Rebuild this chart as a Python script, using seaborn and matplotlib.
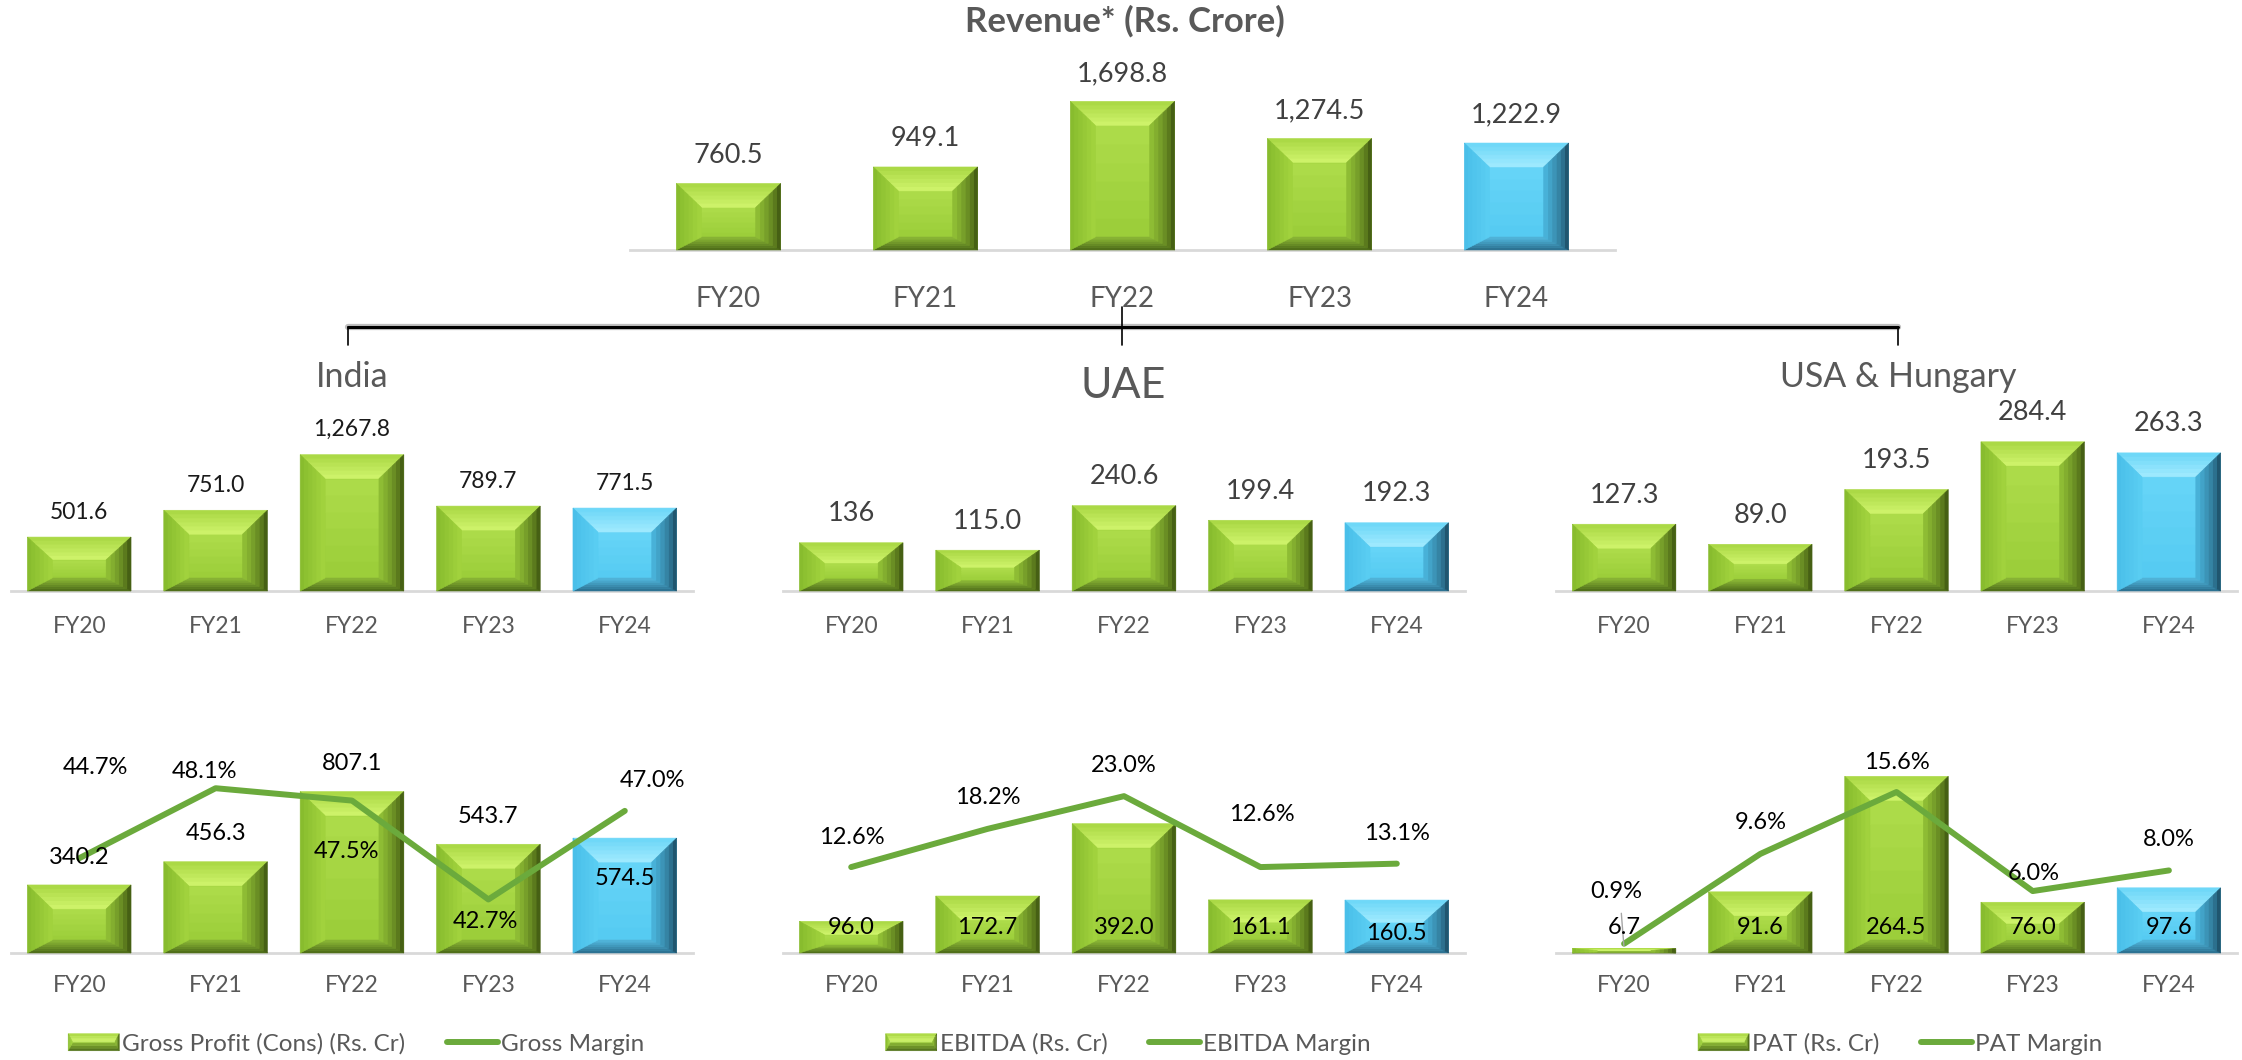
import numpy as np
import matplotlib
matplotlib.use("Agg")
import matplotlib.pyplot as plt
import matplotlib.colors as mcolors
from matplotlib.patches import Polygon, Rectangle
from matplotlib.lines import Line2D
from matplotlib.transforms import IdentityTransform
from matplotlib.legend_handler import HandlerBase
import seaborn as sns

# data
years = ["FY20", "FY21", "FY22", "FY23", "FY24"]
revenue = [760.5, 949.1, 1698.8, 1274.5, 1222.9]
india_rev = [501.6, 751.0, 1267.8, 789.7, 771.5]
uae_rev = [136, 115.0, 240.6, 199.4, 192.3]
uae_rev_labels = ["136", "115.0", "240.6", "199.4", "192.3"]
usa_rev = [127.3, 89.0, 193.5, 284.4, 263.3]
gross_profit = [340.2, 456.3, 807.1, 543.7, 574.5]
gross_margin = [44.7, 48.1, 47.5, 42.7, 47.0]
ebitda = [96.0, 172.7, 392.0, 161.1, 160.5]
ebitda_margin = [12.6, 18.2, 23.0, 12.6, 13.1]
pat = [6.7, 91.6, 264.5, 76.0, 97.6]
pat_margin = [0.9, 9.6, 15.6, 6.0, 8.0]

sns.set_style("white")
plt.rcParams['font.family'] = ['Lato', 'DejaVu Sans']

W, H = 2242, 1060
fig = plt.figure(figsize=(W / 100, H / 100), dpi=100)

GREY = "#595959"
LINE_GREEN = "#6BAA3C"
GREEN = dict(mid=("#AEDC4A", "#9ACD38"), top=("#A8D642", "#D0F46C"),
             left=("#86BA2C", "#A3D43F"), right=("#2F430A", "#93C236"),
             bottom=("#4A6818", "#8DB936"))
BLUE = dict(mid=("#66D5F7", "#54CAF1"), top=("#6AD6F7", "#A2EBFF"),
            left=("#48BEE8", "#5ACEF3"), right=("#143A4F", "#4BB7DF"),
            bottom=("#2A6D8C", "#52B8DE"))
bar_colors = [GREEN] * 4 + [BLUE]


def mix(c0, c1, f):
    a = np.array(mcolors.to_rgb(c0))
    b = np.array(mcolors.to_rgb(c1))
    return tuple(a + (b - a) * f)


def bevel_polys(x0, y0, x1, y1, s, t, b, scheme, n=6):
    polys = []
    # centre, light at top to a bit darker at bottom
    cx0, cy0, cx1, cy1 = x0 + s, y0 + b, x1 - s, y1 - t
    for k in range(n):
        ya = cy0 + (cy1 - cy0) * k / n
        yb = cy0 + (cy1 - cy0) * (k + 1) / n
        col = mix(scheme["mid"][1], scheme["mid"][0], (k + 0.5) / n)
        polys.append(Polygon([(cx0, ya), (cx1, ya), (cx1, yb), (cx0, yb)], closed=True,
                             facecolor=col, edgecolor=col, lw=0.4))
    for k in range(n):
        f0, f1 = k / n, (k + 1) / n
        a = (x0 + s * f0, y0 + b * f0, x1 - s * f0, y1 - t * f0)
        c = (x0 + s * f1, y0 + b * f1, x1 - s * f1, y1 - t * f1)
        f = (k + 0.5) / n
        quads = {
            "top": [(a[0], a[3]), (a[2], a[3]), (c[2], c[3]), (c[0], c[3])],
            "bottom": [(a[0], a[1]), (a[2], a[1]), (c[2], c[1]), (c[0], c[1])],
            "left": [(a[0], a[1]), (c[0], c[1]), (c[0], c[3]), (a[0], a[3])],
            "right": [(a[2], a[1]), (c[2], c[1]), (c[2], c[3]), (a[2], a[3])],
        }
        for side, pts in quads.items():
            g = f ** 0.6 if side == "right" else f
            col = mix(scheme[side][0], scheme[side][1], g)
            polys.append(Polygon(pts, closed=True, facecolor=col, edgecolor=col, lw=0.4))
    return polys


def bevel_bars(ax):
    for bar, scheme in zip(ax.patches, bar_colors):
        (x0, y0) = ax.transData.transform((bar.get_x(), bar.get_y()))
        (x1, y1) = ax.transData.transform((bar.get_x() + bar.get_width(), bar.get_y() + bar.get_height()))
        w, h = x1 - x0, y1 - y0
        s = 0.24 * w
        t = min(24, 0.42 * h)
        b = min(13, 0.25 * h)
        for p in bevel_polys(x0, y0, x1, y1, s, t, b, scheme):
            p.set_transform(IdentityTransform())
            p.set_clip_on(False)
            p.set_zorder(3)
            ax.add_patch(p)


class BevelHandler(HandlerBase):
    def create_artists(self, legend, orig_handle, xdescent, ydescent, width, height, fontsize, trans):
        x0, y0 = -xdescent, -ydescent
        polys = bevel_polys(x0, y0, x0 + width, y0 + height, 0.08 * width, 0.45 * height, 0.45 * height, GREEN, n=3)
        for p in polys:
            p.set_transform(trans)
        return polys


def add_axes_px(left, right, top, bottom):
    return fig.add_axes([left / W, 1 - bottom / H, (right - left) / W, (bottom - top) / H])


def style_axes(ax, ymax, fs, pad):
    ax.set_xlim(-0.5, 4.5)
    ax.set_ylim(0, ymax)
    ax.set_yticks([])
    ax.set_xlabel('')
    ax.set_ylabel('')
    for sp in ["top", "left", "right"]:
        ax.spines[sp].set_visible(False)
    ax.spines["bottom"].set_color("#D9D9D9")
    ax.spines["bottom"].set_linewidth(2)
    ax.tick_params(axis='x', length=0, pad=pad, labelsize=fs, labelcolor=GREY)
    ax.patch.set_alpha(0)


def bar_panel(rect, values, ymax, width_frac, tick_fs, pad):
    ax = add_axes_px(*rect)
    sns.barplot(x=years, y=values, hue=years, palette=["#9CCF3A"] * 4 + ["#56CDF3"],
                width=width_frac, saturation=1, legend=False, ax=ax)
    style_axes(ax, ymax, tick_fs, pad)
    bevel_bars(ax)
    return ax


def labels_above(ax, values, texts, off, fs, color):
    for i, (v, s) in enumerate(zip(values, texts)):
        ax.annotate(s, (i, v), xytext=(0, off), textcoords='offset pixels',
                    ha='center', va='center', fontsize=fs, color=color, zorder=6)


# ---- top revenue chart
ax_top = bar_panel((630, 1615, 90, 250), revenue, 1829, 0.53, 20, 26)
labels_above(ax_top, revenue, [f"{v:,.1f}" for v in revenue], 28, 19.5, "#404040")
fig.text(1125 / W, 1 - 21 / H, "Revenue* (Rs. Crore)", ha='center', va='center',
         fontsize=25, fontweight='bold', color=GREY)

# bracket
bracket_y = 1 - 327 / H
fig.add_artist(Line2D([348 / W, 1898 / W], [bracket_y, bracket_y], color="#BFBFBF", lw=4.5, transform=fig.transFigure))
fig.add_artist(Line2D([348 / W, 1898 / W], [bracket_y, bracket_y], color="black", lw=2.2, transform=fig.transFigure))
for xb, ytop in [(348, 327), (1122, 307), (1898, 327)]:
    fig.add_artist(Line2D([xb / W, xb / W], [1 - ytop / H, 1 - 345 / H], color="black", lw=1.2,
                          transform=fig.transFigure))

# ---- region revenue
mid_rect = [(11, 693, 431, 591), (783, 1465, 431, 591), (1556, 2237, 431, 591)]
ax_in = bar_panel(mid_rect[0], india_rev, 1488, 0.76, 16.5, 18)
labels_above(ax_in, india_rev, [f"{v:,.1f}" for v in india_rev], 25, 16.5, "#1A1A1A")
ax_ua = bar_panel(mid_rect[1], uae_rev, 451, 0.76, 16.5, 18)
labels_above(ax_ua, uae_rev, uae_rev_labels, 29, 19.5, "#404040")
ax_us = bar_panel(mid_rect[2], usa_rev, 305, 0.76, 16.5, 18)
labels_above(ax_us, usa_rev, [f"{v:,.1f}" for v in usa_rev], 29, 19.5, "#404040")

fig.text(352 / W, 1 - 377 / H, "India", ha='center', va='center', fontsize=24.5, color=GREY)
fig.text(1123 / W, 1 - 386 / H, "UAE", ha='center', va='center', fontsize=31, color=GREY)
fig.text(1898 / W, 1 - 377 / H, "USA & Hungary", ha='center', va='center', fontsize=24.5, color=GREY)

# ---- profitability panels
bot_rect = [(11, 693, 760, 953), (783, 1465, 760, 953), (1556, 2237, 760, 953)]
gross_bar_off = [(0, 27), (0, 28), (0, 28), (0, 28), (0, -40)]
gross_pct_off = [(16, 91), (-11, 17), (-5, -51), (-3, -22), (28, 30)]
ebitda_pct_off = [(1, 30), (0, 31), (0, 31), (1, 53), (0, 30)]
pat_pct_off = [(-8, 52), (0, 31), (0, 29), (1, 18), (0, 31)]


def combo_panel(rect, bars, ymax, margins, mlim, bar_offsets, from_base, pct_offsets, bar_name, line_name, legend_x):
    ax = bar_panel(rect, bars, ymax, 0.76, 16.5, 16)
    ax2 = ax.twinx()
    sns.lineplot(x=np.arange(len(margins)), y=margins, ax=ax2, color=LINE_GREEN, linewidth=4.3,
                 solid_capstyle='round')
    ax.set_xlim(-0.5, 4.5)
    ax2.set_ylim(*mlim)
    ax2.set_yticks([])
    ax2.set_ylabel('')
    for sp in ax2.spines.values():
        sp.set_visible(False)
    for i, (v, off) in enumerate(zip(bars, bar_offsets)):
        y = 0 if from_base else v
        ax2.annotate(f"{v:,.1f}", (i, y), xycoords=ax.transData, xytext=off, textcoords='offset pixels',
                     ha='center', va='center', fontsize=17, color="black", zorder=6)
    for i, (m, off) in enumerate(zip(margins, pct_offsets)):
        ax2.annotate(f"{m:.1f}%", (i, m), xytext=off, textcoords='offset pixels',
                     ha='center', va='center', fontsize=17, color="black", zorder=6)
    handles = [Rectangle((0, 0), 1, 1), Line2D([0], [0], color=LINE_GREEN, lw=4.3, solid_capstyle='round')]
    fig.legend(handles, [bar_name, line_name], loc='center', bbox_to_anchor=(legend_x / W, 1 - 1044 / H),
               ncol=2, frameon=False, fontsize=17.5, labelcolor=GREY, handlelength=2.1, handleheight=0.7,
               handletextpad=0.12, columnspacing=1.7, handler_map={Rectangle: BevelHandler()})
    return ax, ax2


combo_panel(bot_rect[0], gross_profit, 965, gross_margin, (40.1, 49.47), gross_bar_off, False,
            gross_pct_off, "Gross Profit (Cons) (Rs. Cr)", "Gross Margin", 356)
combo_panel(bot_rect[1], ebitda, 585, ebitda_margin, (0, 28.3), [(0, 25)] * 4 + [(0, 20)], True,
            ebitda_pct_off, "EBITDA (Rs. Cr)", "EBITDA Margin", 1128)
ax_p, ax_p2 = combo_panel(bot_rect[2], pat, 289, pat_margin, (0, 18.7), [(0, 25)] * 5, True,
                          pat_pct_off, "PAT (Rs. Cr)", "PAT Margin", 1900)
# leader line for the tiny FY20 PAT label
ax_p2.annotate("", xy=(0, pat[0]), xycoords=ax_p.transData, xytext=(-3, 38), textcoords='offset pixels',
               arrowprops=dict(arrowstyle='-', color="#A6A6A6", lw=1))

fig.savefig("out.png", dpi=100, facecolor="white")
plt.close()
